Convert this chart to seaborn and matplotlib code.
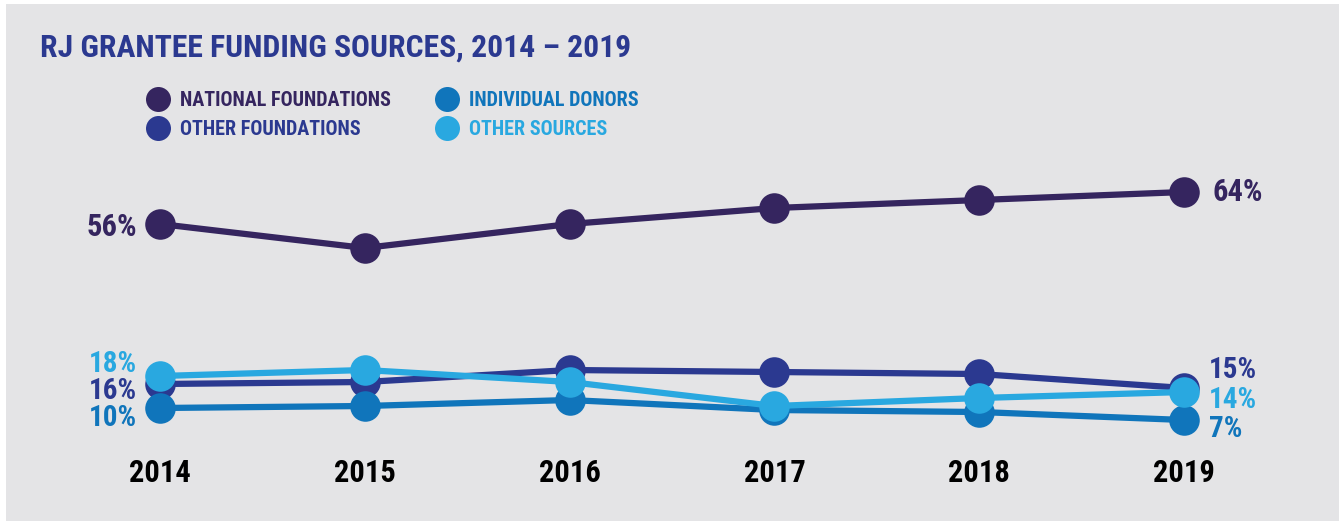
import glob
import numpy as np
import pandas as pd
import seaborn as sns
import matplotlib.pyplot as plt
from matplotlib import font_manager
from matplotlib.patches import Rectangle

# data
years = ['2014', '2015', '2016', '2017', '2018', '2019']
national_foundations = [56, 50, 56, 60, 62, 64]
other_foundations = [16, 16.5, 19.5, 19, 18.5, 15]
individual_donors = [10, 10.5, 12, 9.5, 9, 7]
other_sources = [18, 19.5, 16.5, 10.5, 12.5, 14]

series_names = ['NATIONAL FOUNDATIONS', 'OTHER FOUNDATIONS', 'INDIVIDUAL DONORS', 'OTHER SOURCES']
series_values = [national_foundations, other_foundations, individual_donors, other_sources]
colors = {
    'NATIONAL FOUNDATIONS': '#35255f',
    'OTHER FOUNDATIONS': '#2b3990',
    'INDIVIDUAL DONORS': '#1075bb',
    'OTHER SOURCES': '#29a8e0',
}
draw_order = ['NATIONAL FOUNDATIONS', 'OTHER FOUNDATIONS', 'INDIVIDUAL DONORS', 'OTHER SOURCES']

sns.set_style('white')

# look for a condensed bold face, fall back to DejaVu Sans bold
font_path = None
all_fonts = [f.fname for f in font_manager.fontManager.ttflist]
for pattern in ['RobotoCondensed-Bold.', 'Roboto_Condensed-Bold', 'LiberationSansNarrow-Bold.',
                'DejaVuSansCondensed-Bold.', 'OpenSans_Condensed-Bold', 'OpenSans-CondensedBold']:
    hits = [f for f in all_fonts if pattern in f]
    if not hits:
        hits = [f for f in glob.glob('/usr/share/fonts/**/*', recursive=True) if pattern in f]
    if hits:
        font_path = hits[0]
        break


def fp(size):
    if font_path:
        return font_manager.FontProperties(fname=font_path, size=size)
    return font_manager.FontProperties(family='DejaVu Sans', weight='bold', size=size)


W, H = 1339, 521
fig = plt.figure(figsize=(W / 100, H / 100), dpi=100, facecolor='white')

# gray panel
fig.patches.append(Rectangle((6 / W, 0), 1 - 6 / W, 1 - 4 / H, transform=fig.transFigure,
                             facecolor='#e4e4e6', edgecolor='none', zorder=-5))

# axes: x index 0..5 maps to px 160..1184, value 0..70 maps to px 448..168
ax = fig.add_axes([160 / W, 1 - 448 / H, (1184 - 160) / W, 280 / H])
ax.set_facecolor('none')
ax.set_zorder(2)

rows = []
for name, vals in zip(series_names, series_values):
    for i, v in enumerate(vals):
        rows.append({'idx': i, 'value': v, 'series': name})
df = pd.DataFrame(rows)

sns.lineplot(data=df, x='idx', y='value', hue='series', hue_order=draw_order,
             palette=colors, marker='o', markersize=22, markeredgewidth=0,
             linewidth=4.5, legend=False, ax=ax)
for line in ax.lines:
    line.set_clip_on(False)

ax.set_xlim(0, 5)
ax.set_ylim(0, 70)
ax.set_xticks(range(len(years)))
ax.set_xticklabels(years, fontproperties=fp(22), color='black')
ax.tick_params(axis='x', length=0, pad=7)
ax.set_yticks([])
ax.set_xlabel('')
ax.set_ylabel('')
sns.despine(ax=ax, left=True, bottom=True)


# end labels (offsets in pixels from the marker)
def end_label(series, idx, dx, dy, ha, size=22):
    vals = series_values[series_names.index(series)]
    ax.annotate(f'{vals[idx]:g}%', xy=(idx, vals[idx]), xytext=(dx, dy),
                textcoords='offset pixels', ha=ha, va='baseline',
                fontproperties=fp(size), color=colors[series], annotation_clip=False)


end_label('NATIONAL FOUNDATIONS', 0, -23, -12, 'right')
end_label('OTHER SOURCES', 0, -23, 4, 'right', 21)
end_label('OTHER FOUNDATIONS', 0, -23, -15, 'right', 21)
end_label('INDIVIDUAL DONORS', 0, -23, -18, 'right', 21)
end_label('NATIONAL FOUNDATIONS', 5, 29, -9, 'left')
end_label('OTHER FOUNDATIONS', 5, 25, 10, 'left', 21)
end_label('OTHER SOURCES', 5, 25, -16, 'left', 21)
end_label('INDIVIDUAL DONORS', 5, 25, -17, 'left', 21)

# title
fig.text(40 / W, 1 - 57 / H, 'RJ GRANTEE FUNDING SOURCES, 2014 – 2019', ha='left', va='baseline',
         fontproperties=fp(22.8), color='#2b3990')

# legend
legend_pos = {
    'NATIONAL FOUNDATIONS': (158, 99),
    'OTHER FOUNDATIONS': (158, 128),
    'INDIVIDUAL DONORS': (447, 99),
    'OTHER SOURCES': (447, 128),
}
for name, (px, py) in legend_pos.items():
    fig.lines.append(plt.Line2D([px / W], [1 - py / H], transform=fig.transFigure, marker='o',
                                markersize=18, markeredgewidth=0, color=colors[name], linestyle='none'))
    fig.text((px + 22) / W, 1 - (py + 7) / H, name, ha='left', va='baseline',
             fontproperties=fp(14.5), color=colors[name])

fig.savefig('out.png', dpi=100, facecolor=fig.get_facecolor())
